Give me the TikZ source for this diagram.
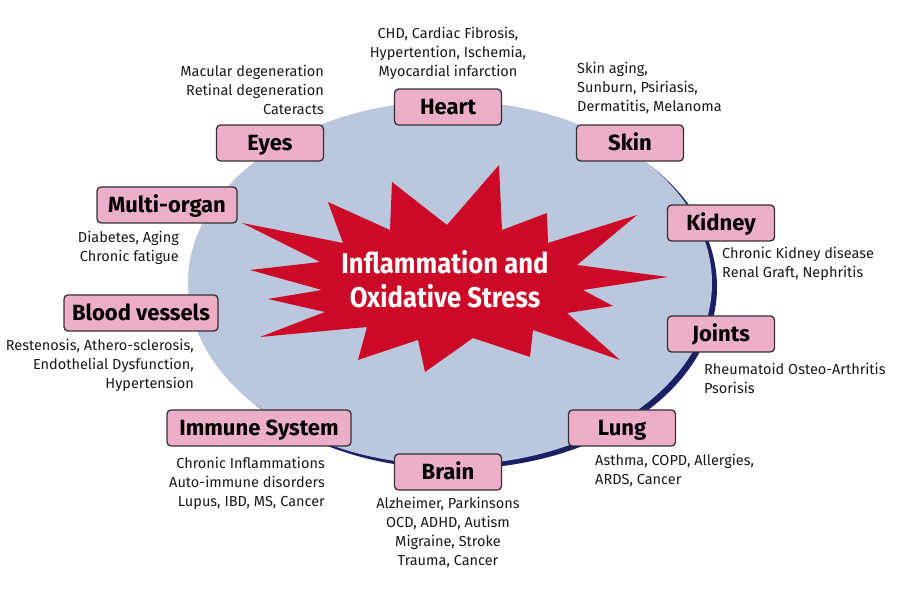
\documentclass[tikz,border=0pt]{standalone}
\usepackage{fontspec}
\setmainfont{Fira Sans}
\newfontfamily\starfont[FakeStretch=0.9,BoldFont={Fira Sans Bold}]{Fira Sans}
\definecolor{ellfill}{RGB}{186,199,221}
\definecolor{navy}{RGB}{26,31,102}
\definecolor{starred}{RGB}{204,10,40}
\definecolor{boxpink}{RGB}{236,174,200}
\definecolor{boxline}{RGB}{50,50,50}
\definecolor{txt}{RGB}{25,25,25}
\tikzset{
  organ/.style={draw=boxline, line width=1.3pt, fill=boxpink, rounded corners=4pt,
    minimum height=36pt, minimum width=107pt, inner sep=0pt, text=black,
    text height=18pt, text depth=3.4pt,
    font=\bfseries\fontsize{22}{24}\selectfont},
  descr/.style={inner sep=0pt, text=txt, font=\fontsize{14.5}{19}\selectfont},
  descl/.style={descr, anchor=west, align=left},
  descrr/.style={descr, anchor=east, align=right},
  descc/.style={descr, anchor=center, align=center}
}
\begin{document}
\begin{tikzpicture}[x=1pt,y=-1pt]
\useasboundingbox (0,0) rectangle (900,593);
% ellipse with shadow
\fill[navy] (455,287) ellipse [x radius=262, y radius=182];
\fill[ellfill] (450,283) ellipse [x radius=262, y radius=182];
% starburst
\fill[starred] (499,165) -- (502,230) -- (547,213) -- (548,243) -- (637,215)
  -- (577,265) -- (668,277) -- (583,290) -- (613,306) -- (567,313)
  -- (620,360) -- (533,330) -- (530,357) -- (473,338) -- (425,372)
  -- (418,340) -- (358,360) -- (367,327) -- (260,337) -- (325,312)
  -- (268,299) -- (322,290) -- (250,270) -- (320,262) -- (242,223)
  -- (343,243) -- (328,202) -- (390,230) -- (392,182) -- (447,225) -- cycle;
\node[text=white, align=center, inner sep=0pt,
  font=\starfont\bfseries\fontsize{28.5}{34}\selectfont] (core) at (445,279)
  {Inflammation and\\Oxidative Stress};
% organ boxes
\node[organ] (heart) at (448,107) {Heart};
\node[organ] (eyes) at (270,143) {Eyes};
\node[organ] (skin) at (630,143) {Skin};
\node[organ, minimum width=140pt] (multi) at (167,205) {Multi-organ};
\node[organ] (kidney) at (721,223) {Kidney};
\node[organ, minimum width=154pt] (blood) at (141,313) {Blood vessels};
\node[organ] (joints) at (721,334) {Joints};
\node[organ, minimum width=184pt] (immune) at (259,428) {Immune System};
\node[organ] (lung) at (622,428) {Lung};
\node[organ] (brain) at (448,472) {Brain};
% descriptions
\node[descc] (heartd) at (448,53) {CHD, Cardiac Fibrosis,\\Hypertention, Ischemia,\\Myocardial infarction};
\node[descrr] (eyesd) at (324,90) {Macular degeneration\\Retinal degeneration\\Cateracts};
\node[descl] (skind) at (577,88) {Skin aging,\\Sunburn, Psiriasis,\\Dermatitis, Melanoma};
\node[descrr] (multid) at (179,248) {Diabetes, Aging\\Chronic fatigue};
\node[descrr] (bloodd) at (194,365) {Restenosis, Athero-sclerosis,\\Endothelial Dysfunction,\\Hypertension};
\node[descl] (kidneyd) at (722,264) {Chronic Kidney disease\\Renal Graft, Nephritis};
\node[descl] (jointsd) at (704,378) {Rheumatoid Osteo-Arthritis\\Psorisis};
\node[descrr] (immuned) at (325,483) {Chronic Inflammations\\Auto-immune disorders\\Lupus, IBD, MS, Cancer};
\node[descl] (lungd) at (595,471) {Asthma, COPD, Allergies,\\ARDS, Cancer};
\node[descc] (braind) at (448,533) {Alzheimer, Parkinsons\\OCD, ADHD, Autism\\Migraine, Stroke\\Trauma, Cancer};
\end{tikzpicture}
\end{document}
